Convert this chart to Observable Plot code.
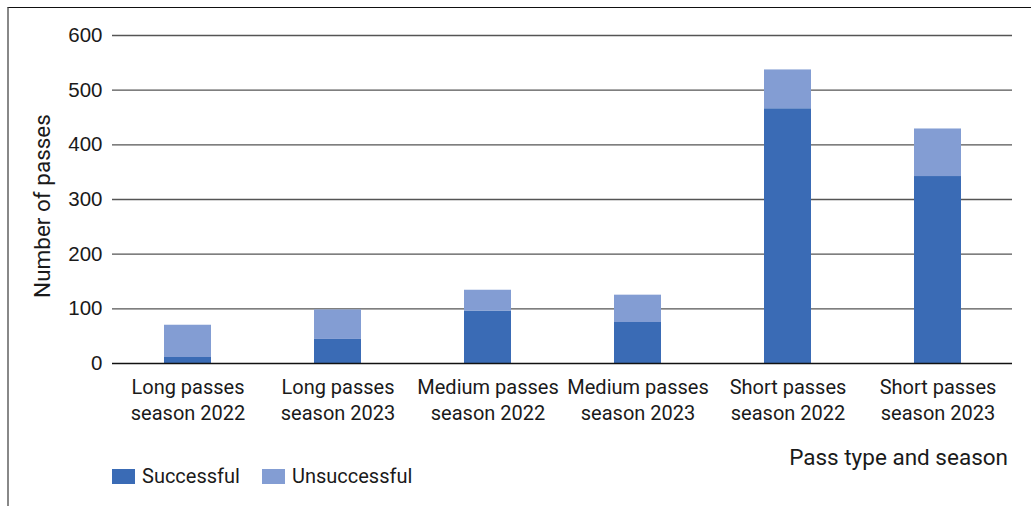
<!DOCTYPE html>
<html>
<head>
<meta charset="utf-8">
<script src="https://cdn.jsdelivr.net/npm/d3@7"></script>
<script src="https://cdn.jsdelivr.net/npm/@observablehq/plot@0.6"></script>
<style>
  html, body { margin: 0; padding: 0; background: #fff; }
  body { width: 1031px; height: 506px; position: relative; overflow: hidden; font-family: Roboto, "Liberation Sans", sans-serif; color: #1a1a1a; }
  #frame { position: absolute; left: 7px; top: 7px; width: 1030px; height: 510px; border-top: 1.5px solid #111; border-left: 2px solid #888; box-sizing: border-box; }
  #chart { position: absolute; left: 0; top: 0; }
  #ylabel { position: absolute; left: 42px; top: 206px; transform: translate(-50%, -50%) rotate(-90deg); font-size: 22.5px; white-space: nowrap; }
  #xlabel { position: absolute; right: 23px; top: 444px; font-size: 22.5px; white-space: nowrap; }
  #legend { position: absolute; left: 112px; top: 464px; display: flex; align-items: center; font-size: 20px; }
  .sw { display: inline-block; width: 23px; height: 15px; margin-right: 7px; }
  .item { display: flex; align-items: center; margin-right: 22px; }
</style>
</head>
<body>
<div id="frame"></div>
<div id="chart"></div>
<div id="ylabel">Number of passes</div>
<div id="xlabel">Pass type and season</div>
<div id="legend"></div>
<script>
const categories = [
  "Long passes\nseason 2022",
  "Long passes\nseason 2023",
  "Medium passes\nseason 2022",
  "Medium passes\nseason 2023",
  "Short passes\nseason 2022",
  "Short passes\nseason 2023"
];
const successful = [11, 44, 96, 75, 466, 342];
const unsuccessful = [59, 54, 38, 50, 71, 87];
const seriesNames = ["Successful", "Unsuccessful"];
const seriesColors = ["#3a6bb5", "#839dd3"];
const yTicks = [0, 100, 200, 300, 400, 500, 600];

const rows = [];
categories.forEach((c, i) => {
  rows.push({category: c, series: seriesNames[0], value: successful[i]});
  rows.push({category: c, series: seriesNames[1], value: unsuccessful[i]});
});

const chart = Plot.plot({
  width: 1031,
  height: 473,
  marginLeft: 112,
  marginRight: 19,
  marginTop: 35,
  marginBottom: 110,
  style: {fontFamily: "Roboto, 'Liberation Sans', sans-serif", color: "#1a1a1a", background: "transparent"},
  x: {domain: categories, paddingInner: 0.687, paddingOuter: 0.3435, axis: null},
  y: {domain: [0, 600], ticks: yTicks, label: null},
  color: {domain: seriesNames, range: seriesColors},
  marks: [
    Plot.ruleY(yTicks.filter(t => t > 0), {stroke: "#555", strokeWidth: 1.3}),
    Plot.barY(rows, Plot.stackY({x: "category", y: "value", fill: "series", order: seriesNames})),
    Plot.ruleY([0], {stroke: "#111", strokeWidth: 1.6}),
    Plot.axisY({ticks: yTicks, tickSize: 0, tickPadding: 10, fontSize: 20.5, label: null, fontFamily: "'Liberation Sans', Arial, sans-serif"}),
    Plot.text(categories, {x: d => d, frameAnchor: "bottom", lineAnchor: "top", dy: 12, lineHeight: 1.3, fontSize: 20, fill: "#1a1a1a"})
  ]
});
document.getElementById("chart").appendChild(chart);

const legend = document.getElementById("legend");
seriesNames.forEach((s, i) => {
  const item = document.createElement("span");
  item.className = "item";
  const sw = document.createElement("span");
  sw.className = "sw";
  sw.style.background = seriesColors[i];
  item.appendChild(sw);
  item.appendChild(document.createTextNode(s));
  legend.appendChild(item);
});
</script>
</body>
</html>
